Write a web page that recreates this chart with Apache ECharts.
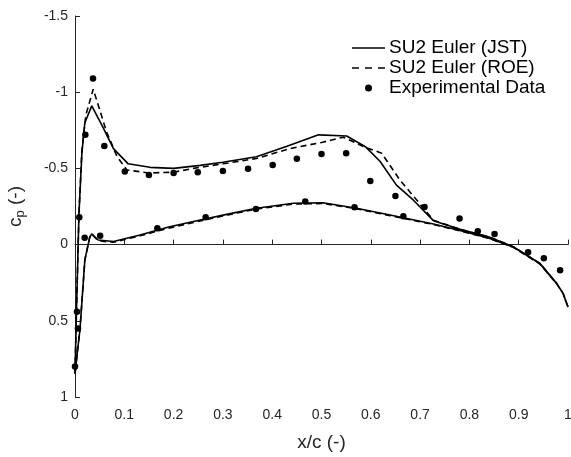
<!DOCTYPE html>
<html>
<head>
<meta charset="utf-8">
<script src="https://cdn.jsdelivr.net/npm/echarts@6/dist/echarts.min.js"></script>
<style>html,body{margin:0;padding:0;background:#fff}#c{width:571px;height:457px}</style>
</head>
<body>
<div id="c"></div>
<script>
// ---- data ----
var jstUpperX  = [0.000, 0.003, 0.008, 0.014, 0.020, 0.034, 0.055, 0.078, 0.108, 0.152, 0.200, 0.254, 0.300, 0.368, 0.430, 0.494, 0.551, 0.590, 0.619, 0.652, 0.686, 0.727, 0.781, 0.840, 0.889, 0.943, 0.977, 0.990, 1.000];
var jstUpperCp = [0.85, 0.43, -0.20, -0.60, -0.80, -0.91, -0.78, -0.63, -0.53, -0.507, -0.50, -0.52, -0.54, -0.577, -0.645, -0.72, -0.713, -0.64, -0.545, -0.39, -0.293, -0.157, -0.10, -0.05, 0.014, 0.123, 0.254, 0.32, 0.41];
var jstLowerX  = [0.000, 0.005, 0.010, 0.020, 0.030, 0.034, 0.047, 0.078, 0.132, 0.190, 0.254, 0.310, 0.368, 0.443, 0.503, 0.571, 0.639, 0.727, 0.781, 0.840, 0.889, 0.943, 0.977, 0.990, 1.000];
var jstLowerCp = [0.85, 0.70, 0.56, 0.10, -0.05, -0.07, -0.03, -0.02, -0.063, -0.115, -0.161, -0.20, -0.238, -0.271, -0.275, -0.238, -0.194, -0.135, -0.092, -0.042, 0.016, 0.125, 0.256, 0.32, 0.41];

var roeUpperX  = [0.000, 0.003, 0.008, 0.014, 0.022, 0.037, 0.064, 0.085, 0.105, 0.150, 0.200, 0.240, 0.300, 0.368, 0.436, 0.500, 0.544, 0.586, 0.622, 0.659, 0.693, 0.727, 0.781, 0.840, 0.889, 0.943, 0.977, 0.990, 1.000];
var roeUpperCp = [0.85, 0.43, -0.20, -0.62, -0.85, -1.02, -0.74, -0.58, -0.49, -0.47, -0.475, -0.50, -0.53, -0.565, -0.63, -0.67, -0.705, -0.642, -0.60, -0.424, -0.293, -0.16, -0.10, -0.05, 0.014, 0.123, 0.254, 0.32, 0.41];
var roeLowerX  = [0.000, 0.005, 0.010, 0.020, 0.030, 0.034, 0.047, 0.078, 0.132, 0.190, 0.254, 0.310, 0.368, 0.443, 0.503, 0.571, 0.639, 0.727, 0.781, 0.840, 0.889, 0.943, 0.977, 0.990, 1.000];
var roeLowerCp = [0.85, 0.70, 0.56, 0.10, -0.05, -0.068, -0.025, -0.015, -0.058, -0.108, -0.155, -0.195, -0.233, -0.266, -0.27, -0.235, -0.19, -0.132, -0.09, -0.04, 0.018, 0.127, 0.258, 0.32, 0.41];

var expX  = [0.000, 0.004, 0.006, 0.0087, 0.021, 0.0365, 0.0595, 0.101, 0.150, 0.200, 0.249, 0.300, 0.351, 0.401, 0.450, 0.500, 0.550, 0.599, 0.650, 0.709, 0.780, 0.817, 0.851, 0.919, 0.951, 0.984,
             0.0196, 0.051, 0.167, 0.265, 0.367, 0.467, 0.567, 0.666];
var expCp = [0.80, 0.44, 0.55, -0.18, -0.72, -1.09, -0.647, -0.48, -0.457, -0.47, -0.474, -0.483, -0.498, -0.522, -0.564, -0.594, -0.599, -0.417, -0.319, -0.247, -0.172, -0.087, -0.07, 0.05, 0.09, 0.168,
             -0.045, -0.058, -0.107, -0.179, -0.234, -0.282, -0.245, -0.186];

var xTicks = [0, 0.1, 0.2, 0.3, 0.4, 0.5, 0.6, 0.7, 0.8, 0.9, 1];
var yTicks = [-1.5, -1, -0.5, 0, 0.5, 1];

// ---- build ----
function loop(ux, uc, lx, lc) {
  var d = [];
  for (var i = lx.length - 1; i >= 0; i--) d.push([lx[i], lc[i]]);
  for (var j = 1; j < ux.length; j++) d.push([ux[j], uc[j]]);
  return d;
}
function pairs(x, y) { return x.map(function (v, i) { return [v, y[i]]; }); }
function tickFmt(list) {
  return function (v) { var s = list.filter(function (t) { return Math.abs(t - v) < 1e-9; }); return s.length ? String(s[0]) : ''; };
}

var axisCol = '#262626';
var font = 'Liberation Sans, Arial, Helvetica, sans-serif';
var chart = echarts.init(document.getElementById('c'), null, {renderer: 'canvas'});
chart.setOption({
  animation: false,
  backgroundColor: '#fff',
  grid: {left: 75, right: 3, top: 16, bottom: 60, containLabel: false, outerBoundsMode: 'none'},
  legend: {
    orient: 'vertical', left: 347, top: 33, itemGap: 0, itemWidth: 33, itemHeight: 7,
    textStyle: {fontFamily: font, fontSize: 19, lineHeight: 20, color: '#000', padding: [0, 0, 0, -1]},
    data: [
      {name: 'SU2 Euler (JST)', icon: 'path://M0,0h33v1.5h-33z'},
      {name: 'SU2 Euler (ROE)', icon: 'path://M0,0h7v1.5h-7z M13,0h7v1.5h-7z M26,0h7v1.5h-7z'},
      {name: 'Experimental Data', icon: 'circle'}
    ]
  },
  xAxis: {
    type: 'value', min: 0, max: 1, interval: 0.1,
    name: 'x/c (-)', nameLocation: 'middle', nameGap: 36,
    nameTextStyle: {fontFamily: font, fontSize: 19, color: axisCol},
    axisLine: {show: true, lineStyle: {color: axisCol, width: 1}},
    axisTick: {show: true, inside: true, length: 5, lineStyle: {color: axisCol}},
    axisLabel: {fontFamily: font, fontSize: 14, color: axisCol, margin: 11, formatter: tickFmt(xTicks)},
    splitLine: {show: false}
  },
  yAxis: {
    type: 'value', min: -1.5, max: 1, interval: 0.5, inverse: true,
    name: '{c|c}{s|p}{n| (-)}', nameLocation: 'middle', nameGap: 48, nameRotate: 90,
    nameTextStyle: {fontFamily: font, fontSize: 19, color: axisCol,
      rich: {c: {fontFamily: font, fontSize: 19, color: axisCol},
             s: {fontFamily: font, fontSize: 13, color: axisCol, padding: [10, 0, 0, 0]},
             n: {fontFamily: font, fontSize: 19, color: axisCol}}},
    axisLine: {show: true, lineStyle: {color: axisCol, width: 1}},
    axisTick: {show: true, inside: true, length: 5, lineStyle: {color: axisCol}},
    axisLabel: {fontFamily: font, fontSize: 14, color: axisCol, margin: 7, formatter: tickFmt(yTicks)},
    splitLine: {show: false}
  },
  series: [
    {name: 'SU2 Euler (JST)', type: 'line', data: loop(jstUpperX, jstUpperCp, jstLowerX, jstLowerCp),
     showSymbol: false, symbol: 'none', color: '#000', lineStyle: {color: '#000', width: 1.6}},
    {name: 'SU2 Euler (ROE)', type: 'line', data: loop(roeUpperX, roeUpperCp, roeLowerX, roeLowerCp),
     showSymbol: false, symbol: 'none', color: '#000', lineStyle: {color: '#000', width: 1.6, type: [6, 4]}},
    {name: 'Experimental Data', type: 'scatter', data: pairs(expX, expCp),
     symbol: 'circle', symbolSize: 6.5, itemStyle: {color: '#000', opacity: 1}}
  ]
});
</script>
</body>
</html>
